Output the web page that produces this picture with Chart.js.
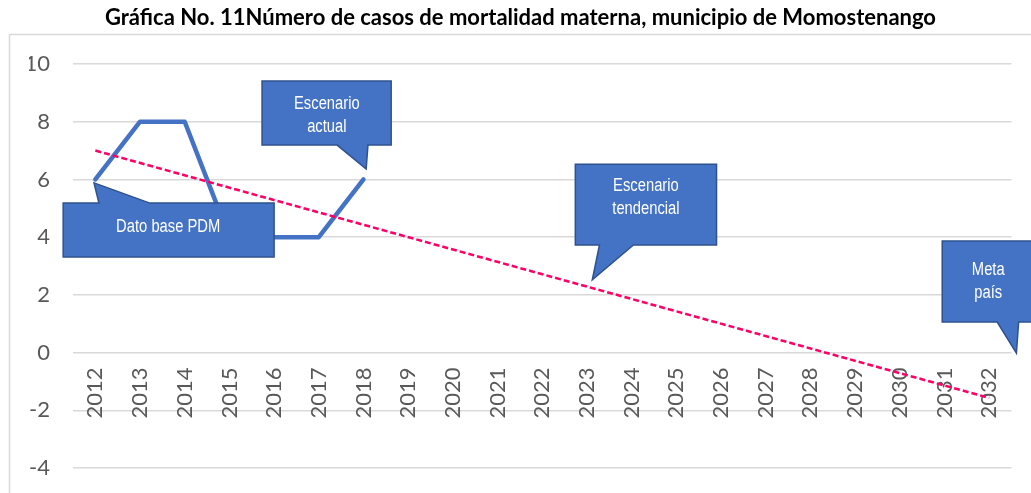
<!DOCTYPE html>
<html lang="es">
<head>
<meta charset="utf-8">
<title>Mortalidad materna, Momostenango</title>
<script src="https://cdn.jsdelivr.net/npm/chart.js@4.4.0/dist/chart.umd.min.js"></script>
<style>
  html, body { margin: 0; padding: 0; background: #fff; }
  canvas { display: block; }
</style>
</head>
<body>
<canvas id="grafica" width="1031" height="493"></canvas>
<script>
// Datos
const titulo = 'Gráfica No. 11Número de casos de mortalidad materna, municipio de Momostenango';
const anios = ['2012', '2013', '2014', '2015', '2016', '2017', '2018', '2019', '2020', '2021', '2022',
  '2023', '2024', '2025', '2026', '2027', '2028', '2029', '2030', '2031', '2032'];
const casos = [6, 8, 8, 4, 4, 4, 6];
const tendencia = [{ x: '2012', y: 7 }, { x: '2032', y: -1.57 }];
const yMin = -4, yMax = 10, yPaso = 2;

// Globos de texto (en unidades de los ejes: índice de categoría y valor)
// caja: [x1, yArriba, x2, yAbajo], cola: [base1, base2, puntaX, puntaY]
const globos = [
  { lineas: ['Dato base PDM'], caja: [-0.72, 5.18, 4.0, 3.31], lado: 'arriba', cola: [0.08, 1.22, -0.03, 5.88], texto: [1.63, 4.36] },
  { lineas: ['Escenario', 'actual'], caja: [3.73, 9.41, 6.62, 7.19], lado: 'abajo', cola: [5.41, 6.10, 6.06, 6.36], texto: [5.18, 8.21] },
  { lineas: ['Escenario', 'tendencial'], caja: [10.74, 6.53, 13.90, 3.73], lado: 'abajo', cola: [11.28, 12.04, 11.12, 2.52], texto: [12.32, 5.36] },
  { lineas: ['Meta', 'país'], caja: [18.95, 3.87, 21.01, 1.06], lado: 'abajo', cola: [20.18, 20.66, 20.61, -0.02], texto: [19.98, 2.45] },
];

const AZUL = '#4472C4';
const GRIS = '#595959';

// marco gris del área de la gráfica
const marco = {
  id: 'marco',
  beforeDraw(chart) {
    const ctx = chart.ctx;
    ctx.save();
    ctx.strokeStyle = '#d9d9d9';
    ctx.lineWidth = 1.5;
    ctx.strokeRect(9.5, 34.5, 1040, 500);
    ctx.restore();
  }
};

// globos tipo "callout" encima de las líneas
const llamadas = {
  id: 'llamadas',
  afterDatasetsDraw(chart) {
    const { ctx, scales: { x, y } } = chart;
    const px = v => x.getPixelForValue(v);
    const py = v => y.getPixelForValue(v);
    ctx.save();
    globos.forEach(g => {
      const [x1, y1, x2, y2] = [px(g.caja[0]), py(g.caja[1]), px(g.caja[2]), py(g.caja[3])];
      const [b1, b2, tx, ty] = [px(g.cola[0]), px(g.cola[1]), px(g.cola[2]), py(g.cola[3])];
      ctx.beginPath();
      if (g.lado === 'arriba') {
        ctx.moveTo(x1, y1);
        ctx.lineTo(b1, y1);
        ctx.lineTo(tx, ty);
        ctx.lineTo(b2, y1);
        ctx.lineTo(x2, y1);
        ctx.lineTo(x2, y2);
        ctx.lineTo(x1, y2);
      } else {
        ctx.moveTo(x1, y1);
        ctx.lineTo(x2, y1);
        ctx.lineTo(x2, y2);
        ctx.lineTo(b2, y2);
        ctx.lineTo(tx, ty);
        ctx.lineTo(b1, y2);
        ctx.lineTo(x1, y2);
      }
      ctx.closePath();
      ctx.fillStyle = AZUL;
      ctx.fill();
      ctx.strokeStyle = '#2F528F';
      ctx.lineWidth = 1.5;
      ctx.lineJoin = 'miter';
      ctx.stroke();

      // texto en Arial Narrow simulada
      const cx = px(g.texto[0]), cy = py(g.texto[1]);
      const alto = 23;
      ctx.fillStyle = '#ffffff';
      ctx.font = '18px "Liberation Sans", Arial, sans-serif';
      ctx.textAlign = 'center';
      ctx.textBaseline = 'middle';
      g.lineas.forEach((t, i) => {
        const ly = cy + (i - (g.lineas.length - 1) / 2) * alto;
        ctx.save();
        ctx.translate(cx, ly);
        ctx.scale(0.82, 1);
        ctx.fillText(t, 0, 0);
        ctx.restore();
      });
    });
    ctx.restore();
  }
};

new Chart(document.getElementById('grafica'), {
  type: 'line',
  data: {
    labels: anios,
    datasets: [
      {
        label: 'Tendencia',
        data: tendencia,
        borderColor: '#FF0066',
        borderWidth: 2.5,
        borderDash: [6, 3],
        pointRadius: 0,
        spanGaps: true,
        order: 0
      },
      {
        label: 'Casos',
        data: casos,
        borderColor: AZUL,
        borderWidth: 4.5,
        borderJoinStyle: 'round',
        borderCapStyle: 'round',
        pointRadius: 0,
        tension: 0,
        order: 1
      }
    ]
  },
  options: {
    responsive: false,
    animation: false,
    layout: { padding: { left: 29, right: 19, top: 0, bottom: 25 } },
    plugins: {
      legend: { display: false },
      tooltip: { enabled: false },
      title: {
        display: true,
        text: titulo,
        color: '#000',
        font: { family: 'Lato', weight: 'bold', size: 22, lineHeight: 1.2 },
        padding: { top: 5, bottom: 32.6 }
      }
    },
    scales: {
      x: {
        position: { y: 0 },
        offset: true,
        grid: { display: false, drawTicks: false },
        border: { display: false },
        ticks: {
          color: GRIS,
          font: { family: 'Lato', size: 22 },
          minRotation: 90,
          maxRotation: 90,
          autoSkip: false,
          padding: 15
        }
      },
      y: {
        min: yMin,
        max: yMax,
        grid: { color: '#d9d9d9', lineWidth: 1.5, drawTicks: false },
        border: { display: false },
        ticks: {
          stepSize: yPaso,
          color: GRIS,
          font: { family: 'Lato', size: 22 },
          padding: 23
        },
        afterFit(scale) {
          // ancho fijo y sin el relleno vertical que añade ticks.padding
          scale.width = 44;
          scale.paddingTop = 0;
          scale.paddingBottom = 0;
        }
      }
    }
  },
  plugins: [marco, llamadas]
});
</script>
</body>
</html>
